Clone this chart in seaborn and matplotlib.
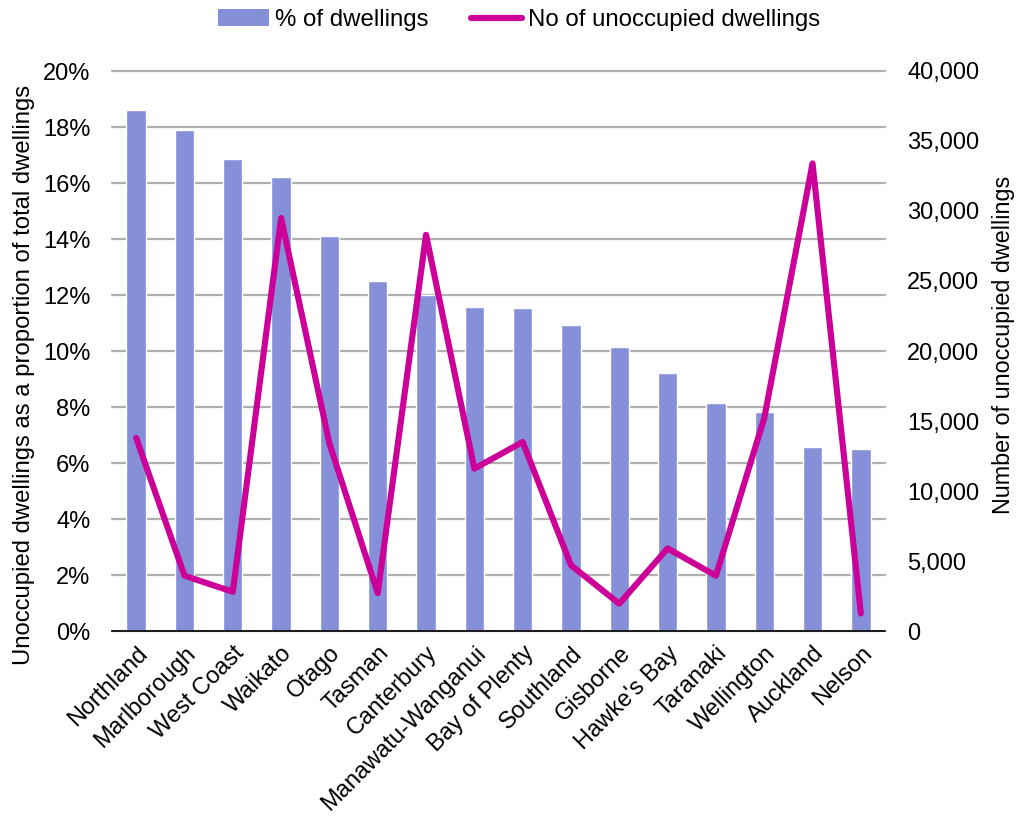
import numpy as np
import pandas as pd
import matplotlib
matplotlib.use("Agg")
import matplotlib.pyplot as plt
import seaborn as sns
from matplotlib.ticker import FuncFormatter, MultipleLocator
from matplotlib.patches import Patch
from matplotlib.lines import Line2D

regions = ["Northland", "Marlborough", "West Coast", "Waikato", "Otago", "Tasman",
           "Canterbury", "Manawatu-Wanganui", "Bay of Plenty", "Southland", "Gisborne",
           "Hawke's Bay", "Taranaki", "Wellington", "Auckland", "Nelson"]
pct_unoccupied = [18.6, 17.9, 16.85, 16.2, 14.1, 12.5, 12.0, 11.57, 11.52, 10.93,
                  10.13, 9.2, 8.14, 7.81, 6.57, 6.5]
num_unoccupied = [13800, 3950, 2800, 29500, 13400, 2700, 28300, 11600, 13500, 4700,
                  1950, 5900, 3950, 15200, 33400, 1250]

bar_color = "#8590D8"
line_color = "#CC0099"
grid_color = "#B0B0B0"
tick_fs = 17
legend_fs = 17.3

sns.set_theme(style="white")
plt.rcParams["font.family"] = ["Liberation Sans", "DejaVu Sans"]
plt.rcParams["text.color"] = "black"
plt.rcParams["axes.labelcolor"] = "black"

df = pd.DataFrame({"region": regions, "pct": pct_unoccupied, "num": num_unoccupied})
df["pos"] = np.arange(len(df))

W, H = 1019, 821
fig = plt.figure(figsize=(W / 100, H / 100), dpi=100)
x0, x1, y_top, y_bot = 112, 885, 71, 631
ax = fig.add_axes([x0 / W, 1 - y_bot / H, (x1 - x0) / W, (y_bot - y_top) / H])

# Bars: share of dwellings that are unoccupied
sns.barplot(data=df, x="region", y="pct", color=bar_color, saturation=1,
            width=0.4, ax=ax, zorder=2)
ax.set_ylim(0, 20)
ax.set_xlim(-0.5, len(df) - 0.5)
ax.yaxis.set_major_locator(MultipleLocator(2))
ax.yaxis.set_major_formatter(FuncFormatter(lambda v, p: f"{v:.0f}%"))
ax.grid(axis="y", color=grid_color, linewidth=1.6, zorder=0)
for gl in ax.get_ygridlines():
    gl.set_clip_on(False)
ax.set_axisbelow(True)
for side in ["top", "right", "left"]:
    ax.spines[side].set_visible(False)
ax.spines["bottom"].set_color("black")
ax.spines["bottom"].set_linewidth(1.2)
ax.tick_params(axis="both", length=0, labelsize=tick_fs, colors="black")
ax.tick_params(axis="y", pad=15.5)
ax.set_xticks(df["pos"])
ax.set_xticklabels(regions, rotation=45, ha="right", rotation_mode="anchor")
ax.tick_params(axis="x", pad=8)
ax.set_xlabel("")
ax.set_ylabel("Unoccupied dwellings as a proportion of total dwellings", fontsize=17.2)
ax.yaxis.set_label_coords((35 - x0) / (x1 - x0), (y_bot - 375) / (y_bot - y_top))

# Line: number of unoccupied dwellings on the secondary axis
ax2 = ax.twinx()
sns.lineplot(data=df, x="pos", y="num", color=line_color, linewidth=4.4,
             ax=ax2, solid_capstyle="round", solid_joinstyle="round", zorder=3)
ax2.set_ylim(0, 40000)
ax2.yaxis.set_major_locator(MultipleLocator(5000))
ax2.yaxis.set_major_formatter(FuncFormatter(lambda v, p: f"{v:,.0f}"))
for side in ["top", "right", "left", "bottom"]:
    ax2.spines[side].set_visible(False)
ax2.tick_params(axis="y", length=0, labelsize=tick_fs, pad=16, colors="black")
ax2.set_ylabel("Number of unoccupied dwellings", fontsize=16.8)
ax2.yaxis.set_label_coords((992 - x0) / (x1 - x0), (y_bot - 345) / (y_bot - y_top))
ax2.set_xlabel("")
ax2.set_xlim(-0.5, len(df) - 0.5)

handles = [Patch(facecolor=bar_color, edgecolor="none", label="% of dwellings"),
           Line2D([0], [0], color=line_color, linewidth=4.4, solid_capstyle="round",
                  label="No of unoccupied dwellings")]
fig.legend(handles=handles, loc="center", bbox_to_anchor=(519 / W, 1 - 20 / H), ncol=2,
           frameon=False, fontsize=legend_fs, handlelength=2.1, columnspacing=1.8,
           handletextpad=0.25)

fig.savefig("out.png", dpi=100)
